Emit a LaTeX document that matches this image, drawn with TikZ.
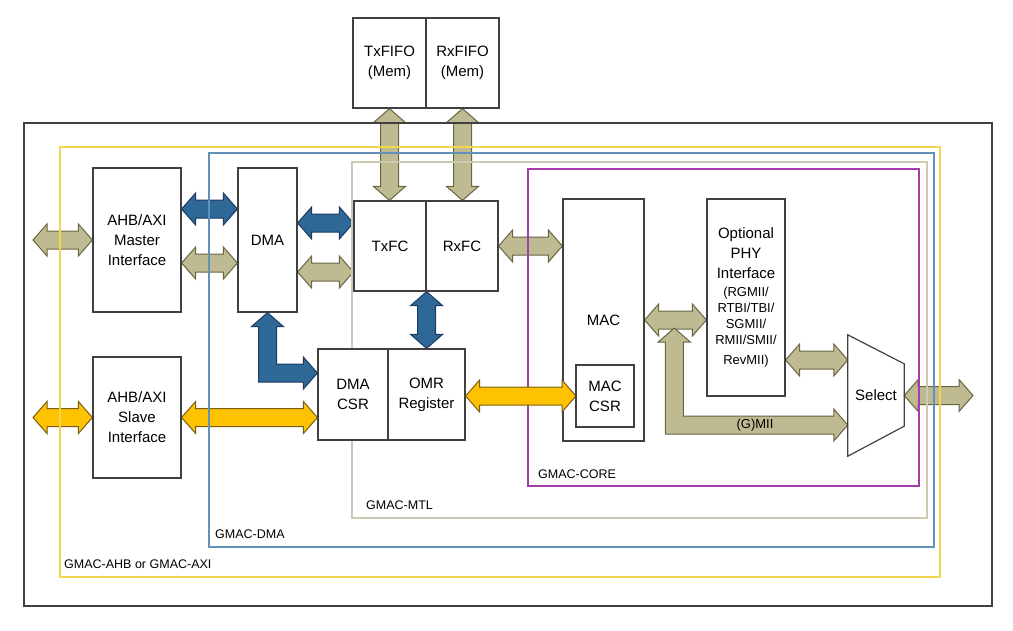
\documentclass[tikz,border=0pt]{standalone}
\usepackage{fontspec}
\setmainfont{Liberation Sans}
\usetikzlibrary{calc}

\definecolor{tanfill}{RGB}{190,186,145}
\definecolor{tanline}{RGB}{105,100,65}
\definecolor{busblue}{RGB}{46,104,150}
\definecolor{blueline}{RGB}{30,58,98}
\definecolor{busyellow}{RGB}{255,194,0}
\definecolor{yellowline}{RGB}{120,95,20}
\definecolor{ahbframe}{RGB}{242,214,80}
\definecolor{dmaframe}{RGB}{100,145,185}
\definecolor{mtlframe}{RGB}{205,202,175}
\definecolor{coreframe}{RGB}{165,60,170}
\definecolor{boxline}{RGB}{64,64,64}

\pgfdeclarelayer{buslayer}
\pgfdeclarelayer{framelayer}
\pgfsetlayers{buslayer,framelayer,main}

\tikzset{
    block/.style = {draw = boxline, line width = 1.2pt, fill = white,
                    inner sep = 0pt, align = center,
                    font = \fontsize{15}{20}\selectfont},
    tanbus/.style = {fill = tanfill, draw = tanline, line width = 1pt},
    bluebus/.style = {fill = busblue, draw = blueline, line width = 1pt},
    yellowbus/.style = {fill = busyellow, draw = yellowline, line width = 1pt},
    frame/.style = {line width = 1.2pt},
    framelabel/.style = {anchor = west, inner sep = 0pt,
                         font = \fontsize{12.5}{14}\selectfont}
}

% fat bus arrows: left -> right, top -> bottom, and up/right elbow
\newcommand{\hbus}[3]{%
    \draw [#1] let \p1 = (#2), \p2 = (#3) in
          (\x1,\y1) -- (\x1+14pt,\y1+16pt) -- (\x1+14pt,\y1+9pt)
          -- (\x2-14pt,\y1+9pt) -- (\x2-14pt,\y1+16pt) -- (\x2,\y1)
          -- (\x2-14pt,\y1-16pt) -- (\x2-14pt,\y1-9pt)
          -- (\x1+14pt,\y1-9pt) -- (\x1+14pt,\y1-16pt) -- cycle;}
\newcommand{\vbus}[3]{%
    \draw [#1] let \p1 = (#2), \p2 = (#3) in
          (\x1,\y1) -- (\x1+16pt,\y1-14pt) -- (\x1+9pt,\y1-14pt)
          -- (\x1+9pt,\y2+14pt) -- (\x1+16pt,\y2+14pt) -- (\x1,\y2)
          -- (\x1-16pt,\y2+14pt) -- (\x1-9pt,\y2+14pt)
          -- (\x1-9pt,\y1-14pt) -- (\x1-16pt,\y1-14pt) -- cycle;}
\newcommand{\lbus}[3]{%
    \draw [#1] let \p1 = (#2), \p2 = (#3) in
          (\x1,\y1) -- (\x1+16pt,\y1-14pt) -- (\x1+9pt,\y1-14pt)
          -- (\x1+9pt,\y2+9pt) -- (\x2-14pt,\y2+9pt) -- (\x2-14pt,\y2+16pt)
          -- (\x2,\y2) -- (\x2-14pt,\y2-16pt) -- (\x2-14pt,\y2-9pt)
          -- (\x1-9pt,\y2-9pt) -- (\x1-9pt,\y1-14pt) -- (\x1-16pt,\y1-14pt)
          -- cycle;}

\begin{document}
\begin{tikzpicture}[x = 1pt, y = -1pt]
    \useasboundingbox (0,0) rectangle (1013,630);

    % blocks
    \node [block, minimum width = 73, minimum height = 90] (txfifo)
          at (389.5,63) {TxFIFO\\(Mem)};
    \node [block, minimum width = 73, minimum height = 90] (rxfifo)
          at (462.5,63) {RxFIFO\\(Mem)};
    \node [block, minimum width = 88, minimum height = 144] (master)
          at (137,240) {AHB/AXI\\Master\\Interface};
    \node [block, minimum width = 59, minimum height = 144] (dma)
          at (267.5,240) {DMA};
    \node [block, minimum width = 72, minimum height = 90] (txfc)
          at (390,246) {TxFC};
    \node [block, minimum width = 72, minimum height = 90] (rxfc)
          at (462,246) {RxFC};
    \node [block, minimum width = 70, minimum height = 91] (dmacsr)
          at (353,394.5) {DMA\\CSR};
    \node [block, minimum width = 77, minimum height = 91] (omr)
          at (426.5,394.5) {OMR\\Register};
    \node [block, minimum width = 88, minimum height = 121] (slave)
          at (137,417.5) {AHB/AXI\\Slave\\Interface};
    \node [block, minimum width = 81, minimum height = 242] (mac)
          at (603.5,320) {MAC};
    \coordinate (csrport) at (576,396);
    \hbus{yellowbus}{omr.east |- csrport}{csrport}; % OMR <-> MAC CSR
    \node [block, minimum width = 58, minimum height = 62] (maccsr)
          at (605,396) {MAC\\CSR};
    \node [block, text width = 78, minimum height = 197] (phy)
          at (746,297.5) {Optional\\PHY\\Interface\\[2pt]%
          \fontsize{13}{16}\selectfont (RGMII/\\RTBI/TBI/\\SGMII/\\RMII/SMII/\\RevMII)};
    \node [inner sep = 0pt, minimum width = 56, minimum height = 121,
           font = \fontsize{15}{20}\selectfont] (sel) at (876,395.5) {Select};
    \draw [draw = boxline, line width = 1.2pt]
          (sel.north west) -- ([yshift = -29pt]sel.north east)
          -- ([yshift = 30pt]sel.south east) -- (sel.south west) -- cycle;

    \coordinate (mport) at (33,240);
    \coordinate (sport) at (33,417.5);
    \coordinate (phyport) at (973,395.5);
    \coordinate (gmii) at ([yshift = -8pt]$(mac.east)!0.48!(phy.west |- mac.east)$);

    % frames
    \begin{pgfonlayer}{framelayer}
        \draw [line width = 1.6pt, draw = boxline] (24,123) rectangle (992,606);
        \draw [frame, draw = ahbframe] (60,147) rectangle (940,577);
        \node [framelabel] (ahblabel) at (64,564) {GMAC-AHB or GMAC-AXI};
        \draw [frame, draw = dmaframe] (209,153) rectangle (934,547);
        \node [framelabel] (dmalabel) at (215,534) {GMAC-DMA};
        \draw [frame, draw = mtlframe] (352,162) rectangle (927,518);
        \node [framelabel] (mtllabel) at (366,505) {GMAC-MTL};
        \draw [frame, draw = coreframe] (528,169) rectangle (919,486);
        \node [framelabel] (corelabel) at (538,474) {GMAC-CORE};
    \end{pgfonlayer}

    % buses
    \begin{pgfonlayer}{buslayer}
        \hbus{tanbus}{mport}{master.west}; % port <-> master
        \hbus{bluebus}{master.east |- 0,209}{dma.west |- 0,209}; % master <-> DMA
        \hbus{tanbus}{master.east |- 0,263}{dma.west |- 0,263};
        \hbus{bluebus}{dma.east |- 0,223}{txfc.west |- 0,223}; % DMA <-> TxFC
        \hbus{tanbus}{dma.east |- 0,272}{txfc.west |- 0,272};
        \vbus{tanbus}{txfifo.south}{txfc.north}; % TxFIFO <-> TxFC
        \vbus{tanbus}{rxfifo.south}{rxfc.north}; % RxFIFO <-> RxFC
        \vbus{bluebus}{txfc.south east}{omr.north}; % FC <-> OMR
        \lbus{bluebus}{dma.south}{dmacsr.west |- 0,373}; % DMA <-> DMA CSR
        \hbus{yellowbus}{sport}{slave.west}; % port <-> slave
        \hbus{yellowbus}{slave.east}{dmacsr.west |- slave.east}; % slave <-> DMA CSR
        \hbus{tanbus}{rxfc.east}{mac.west |- rxfc.east}; % RxFC <-> MAC
        \hbus{tanbus}{mac.east}{phy.west |- mac.east}; % MAC <-> PHY
        \lbus{tanbus}{gmii}{sel.west |- 0,425}; % (G)MII
        \hbus{tanbus}{phy.east |- 0,360}{sel.west |- 0,360}; % PHY <-> select
        \hbus{tanbus}{sel.east}{phyport}; % select <-> port
    \end{pgfonlayer}
    \node [inner sep = 0pt, font = \fontsize{13}{15}\selectfont] (gmiilabel)
          at (755,425) {(G)MII};
\end{tikzpicture}
\end{document}
